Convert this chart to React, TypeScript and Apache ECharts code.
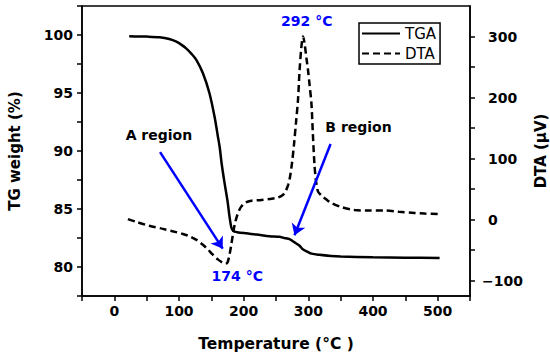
import React, { useEffect, useRef } from "react";
import * as echarts from "echarts";

// TGA curve: temperature (°C) and weight (%)
const tgaTemp = [23, 50, 70, 85, 96, 104, 111, 119, 127, 137, 147, 155, 160, 163, 166, 170, 175, 178, 181, 184, 190, 204, 220, 240, 255, 263, 271, 278, 286, 292, 299, 305, 317, 335, 350, 400, 450, 503];
const tgaWeight = [99.9, 99.86, 99.8, 99.65, 99.42, 99.15, 98.85, 98.4, 97.84, 96.7, 95.0, 92.95, 91.3, 90.3, 88.9, 87.4, 85.7, 84.4, 83.4, 83.1, 83.0, 82.9, 82.8, 82.65, 82.6, 82.5, 82.4, 82.15, 81.85, 81.5, 81.3, 81.15, 81.05, 80.95, 80.9, 80.83, 80.8, 80.78];

// DTA curve: temperature (°C) and signal (µV)
const dtaTemp = [21, 35, 54, 75, 90, 105, 116, 127, 137, 145, 152, 160, 167, 172, 175, 178, 181, 184, 187, 191, 196, 203, 212, 225, 240, 252, 260, 265, 269, 272, 275, 278, 281, 284, 286.5, 289, 291.8, 294, 297, 299.5, 302, 304.8, 307, 309.5, 312, 315, 320, 328, 336, 350, 371, 390, 418, 440, 464, 480, 503];
const dtaSignal = [1, -4, -10, -15, -19, -23, -27, -33, -41, -49, -57, -65, -70, -72, -70, -58, -40, -20, -4, 10, 21, 28, 31, 32, 34, 36, 40, 47, 58, 72, 95, 125, 160, 196, 245, 280, 300, 290, 265, 245, 220, 190, 141, 90, 62, 46, 40, 33, 27, 21, 16, 15, 15, 13, 11, 10, 9];

const xTickLabels = [0, 100, 200, 300, 400, 500];
const leftTickLabels = [80, 85, 90, 95, 100];
const rightTickLabels = [-100, 0, 100, 200, 300];
const rightTicks = [-100, -50, 0, 50, 100, 150, 200, 250, 300];

const seriesNames = ["TGA", "DTA"];

// annotations in data coordinates (temperature, TG weight)
const annotationTexts = ["A region", "B region", "292 °C", "174 °C"];
const annotationTemp = [68.9, 377.6, 297.5, 190.1];
const annotationWeight = [91.36, 92.1, 101.2, 79.19];
const annotationBlue = [false, false, true, true];

// arrows in data coordinates (temperature, TG weight): [fromT, fromW, toT, toW]
const arrowA = [70.7, 89.9, 167.6, 81.58];
const arrowB = [334.4, 90.6, 278.6, 82.73];

const FONT = "DejaVu Sans";
const BLUE = "#0000ff";

export default function App() {
  const ref = useRef<HTMLDivElement>(null);

  useEffect(() => {
    if (!ref.current) return;
    const chart = echarts.init(ref.current, undefined, { renderer: "svg" });

    const tgaData = tgaTemp.map((t, i) => [t, tgaWeight[i]]);
    const dtaData = dtaTemp.map((t, i) => [t, dtaSignal[i]]);

    const axisLabelBase = {
      fontFamily: FONT,
      fontWeight: "bold" as const,
      fontSize: 14,
      color: "#000",
    };

    const option: any = {
      animation: false,
      backgroundColor: "#fff",
      grid: {
        left: 82,
        right: 80,
        top: 6,
        bottom: 66,
        containLabel: false,
        outerBoundsMode: "none",
        show: true,
        borderColor: "#000",
        borderWidth: 1.5,
      },
      legend: {
        data: seriesNames,
        orient: "vertical",
        left: 359,
        top: 23,
        itemWidth: 38,
        itemHeight: 14,
        itemGap: 5,
        padding: [3, 4, 3, 2],
        borderColor: "#000",
        borderWidth: 1.5,
        itemStyle: { color: "rgba(0,0,0,0)", borderWidth: 0, opacity: 0 },
        textStyle: { fontFamily: FONT, fontSize: 15, color: "#000" },
      },
      xAxis: {
        type: "value",
        min: -50,
        max: 550,
        interval: 50,
        name: "Temperature (°C )",
        nameLocation: "middle",
        nameGap: 40,
        nameTextStyle: { fontFamily: FONT, fontWeight: "bold", fontSize: 15.5, color: "#000" },
        axisLine: { show: true, onZero: false, lineStyle: { color: "#000", width: 1.5 } },
        axisTick: { show: true, inside: false, length: 5, lineStyle: { color: "#000", width: 1.5 } },
        axisLabel: {
          ...axisLabelBase,
          margin: 8,
          formatter: (v: number) => (xTickLabels.includes(v) ? String(v) : ""),
        },
        splitLine: { show: false },
      },
      yAxis: [
        {
          type: "value",
          position: "left",
          min: 77.5,
          max: 102.5,
          interval: 2.5,
          name: "TG weight (%)",
          nameLocation: "middle",
          nameGap: 60,
          nameTextStyle: { fontFamily: FONT, fontWeight: "bold", fontSize: 15, color: "#000" },
          axisLine: { show: true, onZero: false, lineStyle: { color: "#000", width: 1.5 } },
          axisTick: { show: true, inside: false, length: 5, lineStyle: { color: "#000", width: 1.5 } },
          axisLabel: {
            ...axisLabelBase,
            margin: 9,
            formatter: (v: number) => (leftTickLabels.includes(v) ? String(v) : ""),
          },
          splitLine: { show: false },
        },
        {
          type: "value",
          position: "right",
          min: -125,
          max: 350,
          name: "DTA (μV)",
          nameLocation: "middle",
          nameGap: 60,
          nameRotate: 90,
          nameTextStyle: { fontFamily: FONT, fontWeight: "bold", fontSize: 15, color: "#000" },
          axisLine: { show: true, onZero: false, lineStyle: { color: "#000", width: 1.5 } },
          axisTick: {
            show: true,
            inside: false,
            length: 5,
            customValues: rightTicks,
            lineStyle: { color: "#000", width: 1.5 },
          },
          axisLabel: {
            ...axisLabelBase,
            margin: 12,
            align: "left",
            customValues: rightTickLabels,
            formatter: (v: number) => (v < 0 ? "\u2212" + String(-v) : "{p|}" + String(v)),
            rich: {
              p: { width: 6 },
            },
          },
          splitLine: { show: false },
        },
      ],
      series: [
        {
          name: seriesNames[0],
          type: "line",
          yAxisIndex: 0,
          data: tgaData,
          symbol: "none",
          smooth: 0.3,
          lineStyle: { color: "#000", width: 2.5, type: "solid" },
          itemStyle: { color: "#000" },
          markLine: {
            silent: true,
            symbol: ["none", "arrow"],
            symbolSize: 11,
            label: { show: false },
            lineStyle: { color: BLUE, width: 2.5, type: "solid" },
            itemStyle: { color: BLUE },
            emphasis: { disabled: true },
            data: [
              [{ coord: [arrowA[0], arrowA[1]] }, { coord: [arrowA[2], arrowA[3]] }],
              [{ coord: [arrowB[0], arrowB[1]] }, { coord: [arrowB[2], arrowB[3]] }],
            ],
          },
          markPoint: {
            silent: true,
            symbol: "circle",
            symbolSize: 1,
            itemStyle: { color: "rgba(0,0,0,0)" },
            data: annotationTexts.map((txt, i) => ({
              coord: [annotationTemp[i], annotationWeight[i]],
              value: 0,
              label: {
                show: true,
                position: "inside",
                formatter: txt,
                fontFamily: FONT,
                fontWeight: "bold",
                fontSize: 14,
                color: annotationBlue[i] ? BLUE : "#000",
              },
            })),
          },
        },
        {
          name: seriesNames[1],
          type: "line",
          yAxisIndex: 1,
          data: dtaData,
          symbol: "none",
          smooth: 0.3,
          lineStyle: { color: "#000", width: 2.5, type: [7, 4] },
          itemStyle: { color: "#000" },
        },
      ],
    };

    chart.setOption(option);
    return () => chart.dispose();
  }, []);

  return <div ref={ref} style={{ width: 550, height: 362, position: "absolute", left: 0, top: 0 }} />;
}
